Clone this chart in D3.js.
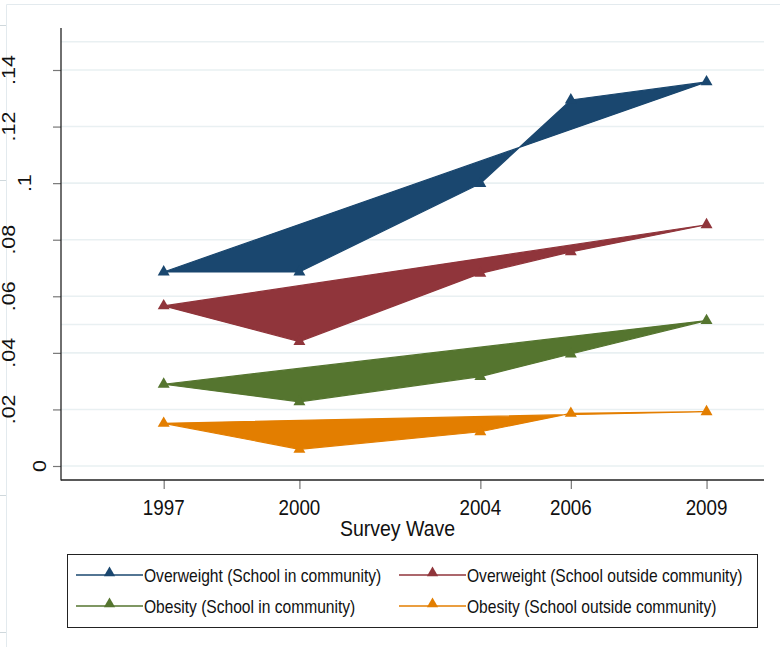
<!DOCTYPE html>
<html>
<head>
<meta charset="utf-8">
<script src="https://cdn.jsdelivr.net/npm/d3@7"></script>
<style>
  html, body { margin: 0; padding: 0; background: #ffffff; }
  svg { display: block; }
  text { font-family: Arial, "Liberation Sans", Helvetica, sans-serif; fill: #111; }
</style>
</head>
<body>
<svg id="chart" width="780" height="647"></svg>
<script>
// ---- data ----
const years = [1997, 2000, 2004, 2006, 2009];
const overweightIn  = [0.0686, 0.0686, 0.0999, 0.1294, 0.1358];
const overweightOut = [0.0566, 0.0440, 0.0681, 0.0757, 0.0853];
const obesityIn     = [0.0289, 0.0227, 0.0316, 0.0396, 0.0514];
const obesityOut    = [0.0151, 0.0059, 0.0121, 0.0186, 0.0192];
const seriesNames = [
  "Overweight (School in community)",
  "Overweight (School outside community)",
  "Obesity (School in community)",
  "Obesity (School outside community)"
];
const yTickValues = [0, 0.02, 0.04, 0.06, 0.08, 0.10, 0.12, 0.14];
const yTickLabels = ["0", ".02", ".04", ".06", ".08", ".1", ".12", ".14"];
const gridValues = [0, 0.02, 0.04, 0.05, 0.06, 0.08, 0.10, 0.12, 0.14, 0.15];
const xTitle = "Survey Wave";

const colors = ["#1a476f", "#90353b", "#55752f", "#e37e00"];
const seriesValues = [overweightIn, overweightOut, obesityIn, obesityOut];

const svg = d3.select("#chart");
const TS = 1.16; // vertical text stretch of the reference

// ---- background frame fragments ----
const frameCol = "#e3eaee";
svg.append("line").attr("x1", 6.5).attr("x2", 780).attr("y1", 4.5).attr("y2", 4.5)
  .attr("stroke", frameCol).attr("stroke-width", 1);
svg.append("line").attr("x1", 6.5).attr("x2", 6.5).attr("y1", 4.5).attr("y2", 647)
  .attr("stroke", frameCol).attr("stroke-width", 1);
[25, 180, 495, 632].forEach(yy => {
  svg.append("line").attr("x1", 0).attr("x2", 6).attr("y1", yy + 0.5).attr("y2", yy + 0.5)
    .attr("stroke", "#cfd8dc").attr("stroke-width", 1);
});

// ---- scales ----
const plot = { left: 61, right: 764, top: 28, bottom: 480 };
const x = d3.scaleLinear().domain([1994.73, 2010.27]).range([plot.left, plot.right]);
const y = d3.scaleLinear().domain([-0.00495, 0.15485]).range([plot.bottom, plot.top]);

// ---- gridlines ----
svg.append("g").selectAll("line").data(gridValues).join("line")
  .attr("x1", plot.left).attr("x2", plot.right)
  .attr("y1", d => y(d)).attr("y2", d => y(d))
  .attr("stroke", "#e9f0f2").attr("stroke-width", 1.6);

// ---- series polygons ----
const line = d3.line().x(d => x(d[0])).y(d => y(d[1]));
const tri = d3.symbol().type(d3.symbolTriangle).size(62);
seriesValues.forEach((vals, i) => {
  const pts = years.map((yr, j) => [yr, vals[j]]);
  svg.append("path")
    .attr("d", line(pts) + "Z")
    .attr("fill", colors[i])
    .attr("stroke", colors[i])
    .attr("stroke-width", 1.2)
    .attr("stroke-linejoin", "miter");
  svg.append("g").selectAll("path").data(pts).join("path")
    .attr("transform", d => `translate(${x(d[0])},${y(d[1])})`)
    .attr("d", tri())
    .attr("fill", colors[i]);
});

// ---- axes ----
const axisCol = "#222";
const tickCol = "#777";
// y axis
const yAxis = d3.axisLeft(y).tickValues(yTickValues).tickSize(8).tickFormat("");
const gy = svg.append("g").attr("transform", `translate(${plot.left},0)`).call(yAxis);
gy.select(".domain").remove();
gy.selectAll(".tick line").attr("stroke", tickCol).attr("stroke-width", 1.2);
svg.append("line").attr("x1", plot.left).attr("x2", plot.left)
  .attr("y1", plot.top).attr("y2", plot.bottom + 0.5)
  .attr("stroke", axisCol).attr("stroke-width", 1.3);
// y labels (rotated)
yTickValues.forEach((v, i) => {
  const lab = yTickLabels[i];
  const bx = 61 - 15.2 * lab.length;
  svg.append("text")
    .attr("transform", `translate(${bx},${y(v)}) scale(1,${TS}) rotate(-90)`)
    .attr("text-anchor", "middle")
    .attr("font-size", 18.5)
    .text(lab);
});

// x axis
const xAxis = d3.axisBottom(x).tickValues(years).tickSize(9).tickFormat("");
const gx = svg.append("g").attr("transform", `translate(0,${plot.bottom})`).call(xAxis);
gx.select(".domain").remove();
gx.selectAll(".tick line").attr("stroke", tickCol).attr("stroke-width", 1.2);
svg.append("line").attr("x1", plot.left).attr("x2", plot.right)
  .attr("y1", plot.bottom).attr("y2", plot.bottom)
  .attr("stroke", axisCol).attr("stroke-width", 1.3);
years.forEach(yr => {
  svg.append("text")
    .attr("transform", `translate(${x(yr)},515) scale(1,${TS})`)
    .attr("text-anchor", "middle")
    .attr("font-size", 18.8)
    .text(String(yr));
});
svg.append("text")
  .attr("transform", `translate(${(plot.left + plot.right) / 2 - 15},536) scale(1,${TS})`)
  .attr("text-anchor", "middle")
  .attr("font-size", 19.5)
  .text(xTitle);

// ---- legend ----
svg.append("rect").attr("x", 67.5).attr("y", 554.5).attr("width", 690).attr("height", 73)
  .attr("fill", "#fff").attr("stroke", "#222").attr("stroke-width", 1);
const legPos = [
  { x1: 76, x2: 143, y: 575 },
  { x1: 399, x2: 466, y: 575 },
  { x1: 76, x2: 143, y: 606 },
  { x1: 399, x2: 466, y: 606 }
];
const legTri = d3.symbol().type(d3.symbolTriangle).size(55);
seriesNames.forEach((name, i) => {
  const p = legPos[i];
  svg.append("line").attr("x1", p.x1).attr("x2", p.x2).attr("y1", p.y).attr("y2", p.y)
    .attr("stroke", colors[i]).attr("stroke-width", 1.6);
  svg.append("path").attr("transform", `translate(${(p.x1 + p.x2) / 2},${p.y - 2})`)
    .attr("d", legTri()).attr("fill", colors[i]);
  svg.append("text")
    .attr("transform", `translate(${p.x2 + 1},${p.y + 6.5}) scale(1,${TS})`)
    .attr("font-size", 15.6)
    .text(name);
});
</script>
</body>
</html>
